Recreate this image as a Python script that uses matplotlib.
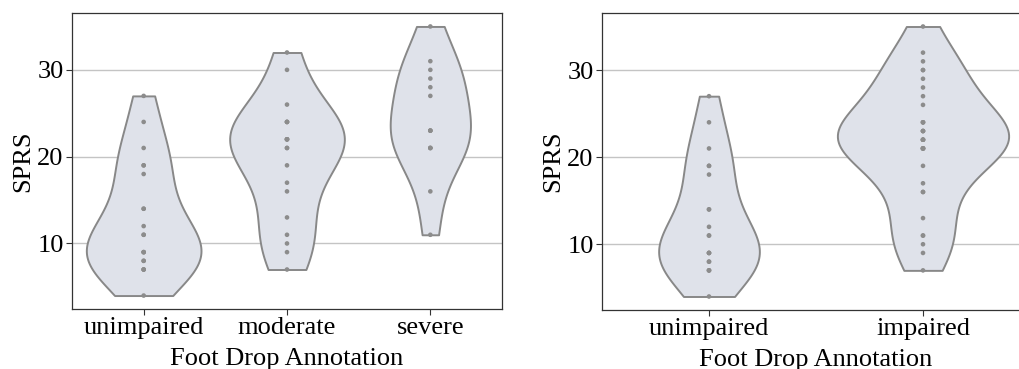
import matplotlib
matplotlib.use("Agg")
import matplotlib.pyplot as plt
import pandas as pd
import seaborn as sns

# SPRS scores per foot drop annotation (repeated scores overlap as one dot)
unimpaired = [4, 7, 7, 7, 8, 8, 9, 9, 9, 11, 11, 12, 14, 14, 18, 19, 19, 21, 24, 27]
moderate = [7, 9, 10, 11, 13, 16, 17, 19, 21, 21, 22, 22, 22, 22, 24, 24, 24, 26, 30, 32]
severe = [11, 16, 21, 21, 21, 23, 23, 23, 27, 28, 29, 30, 31, 35]

cats3 = ["unimpaired", "moderate", "severe"]
cats2 = ["unimpaired", "impaired"]

df3 = pd.DataFrame({
    "group": ["unimpaired"] * len(unimpaired) + ["moderate"] * len(moderate) + ["severe"] * len(severe),
    "SPRS": unimpaired + moderate + severe,
})
df2 = pd.DataFrame({
    "group": ["unimpaired"] * len(unimpaired) + ["impaired"] * (len(moderate) + len(severe)),
    "SPRS": unimpaired + moderate + severe,
})

plt.rcParams["font.family"] = ["Liberation Serif", "DejaVu Serif"]
plt.rcParams["font.size"] = 19

fig = plt.figure(figsize=(10.19, 3.69), dpi=100)
ax1 = fig.add_axes([72 / 1019, 1 - 309 / 369, 430 / 1019, 296 / 369])
ax2 = fig.add_axes([602 / 1019, 1 - 310 / 369, 428 / 1019, 297 / 369])

fill = "#dfe2ea"
for ax, df, order in [(ax1, df3, cats3), (ax2, df2, cats2)]:
    ax.set_axisbelow(True)
    ax.yaxis.grid(True, color="#c4c4c4", linewidth=1.0)
    sns.violinplot(data=df, x="group", y="SPRS", order=order, ax=ax, cut=0,
                   inner="point", density_norm="count", color=fill, saturation=1,
                   linecolor="#888888", linewidth=1.4,
                   inner_kws=dict(s=11, color="#8c8c8c", edgecolor="none"))
    ax.set_ylim(2.45, 36.55)
    ax.set_yticks([10, 20, 30])
    ax.set_xlabel("Foot Drop Annotation", labelpad=6)
    ax.set_ylabel("SPRS", labelpad=2)
    ax.tick_params(axis="both", direction="out", length=4, width=0.8,
                   color="#333333", pad=2)
    for sp in ax.spines.values():
        sp.set_color("#333333")
        sp.set_linewidth(0.9)

fig.savefig("out.png", dpi=100)
